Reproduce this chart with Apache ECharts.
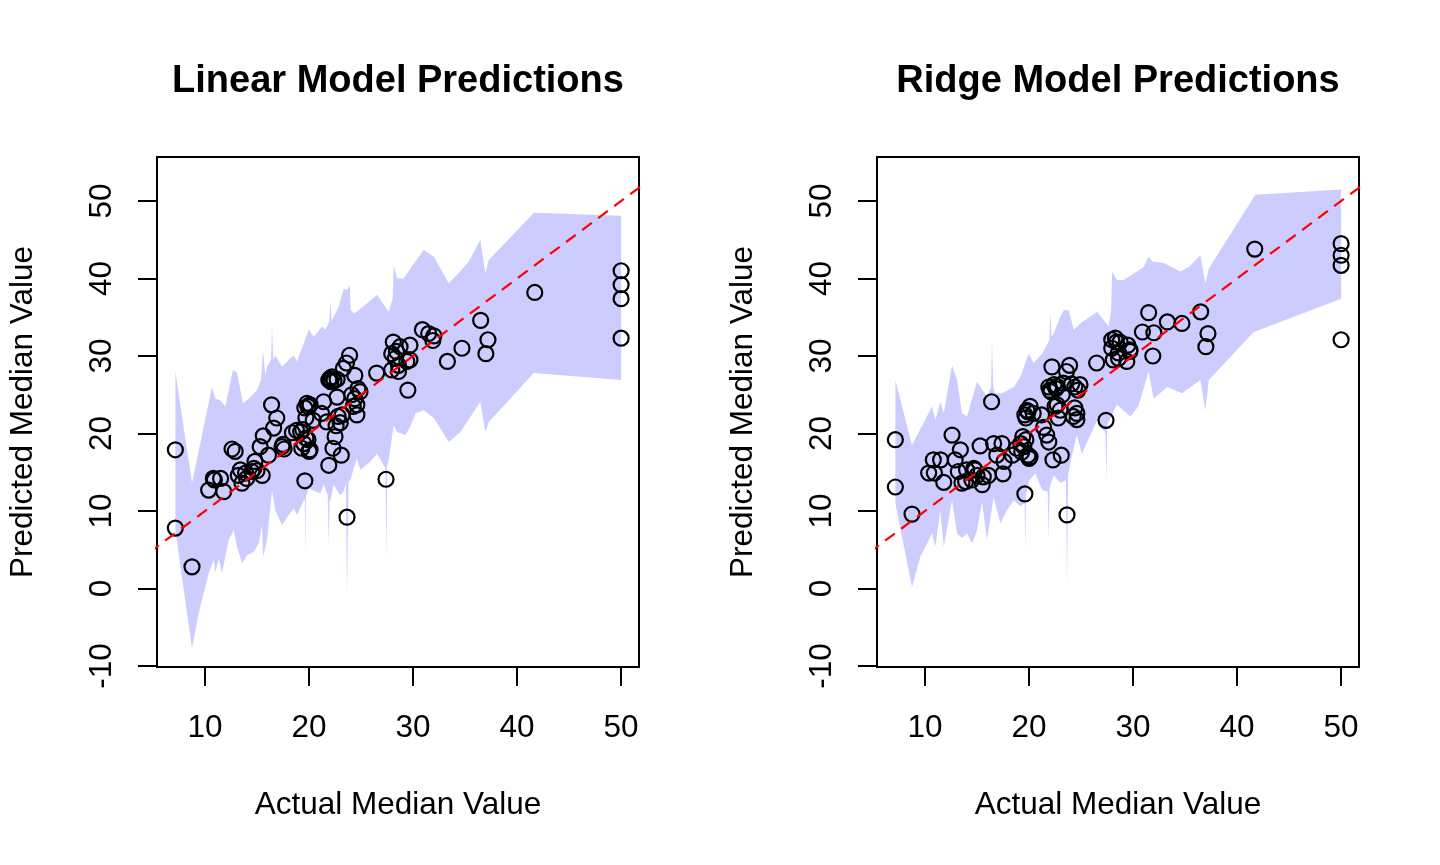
<!DOCTYPE html>
<html>
<head>
<meta charset="utf-8">
<title>Linear vs Ridge predictions</title>
<script src="https://cdn.jsdelivr.net/npm/echarts@6/dist/echarts.min.js"></script>
<style>
  html, body { margin: 0; padding: 0; background: #fff; }
  #chart { width: 1440px; height: 865px; }
</style>
</head>
<body>
<div id="chart"></div>
<script>
// test set: actual median value and what each model predicted for it
const actual = [
  7.15, 7.15, 8.75, 10.35, 10.8, 10.9, 11.5, 11.8,
  12.6, 12.9, 13.2, 13.4, 13.55, 13.9, 14.0, 14.5, 14.7, 14.8, 15.0, 15.3, 15.5, 15.6,
  16.1, 16.4, 16.6, 16.9, 17.4, 17.5, 17.6,
  18.4, 18.8, 19.2, 19.3, 19.4, 19.5, 19.6, 19.6, 19.7, 19.7, 19.8, 19.9, 19.9, 20.0, 20.1, 20.1, 20.4,
  21.2, 21.4, 21.7, 21.9, 21.9, 22.0, 22.1, 22.2, 22.3, 22.4, 22.5, 22.6, 22.7, 22.7, 22.8, 23.0, 23.1, 23.2, 23.3, 23.6, 23.65, 23.9,
  24.1, 24.25, 24.4, 24.4, 24.6, 24.6, 24.7, 24.9,
  26.5, 27.4, 27.95, 27.95, 28.1, 28.3, 28.4, 28.6, 28.6, 28.75, 29.4, 29.5, 29.7, 29.7,
  30.9, 31.5, 31.9, 32.0, 33.3, 34.7, 36.5, 37.0, 37.2, 41.7, 50, 50, 50, 50
];
const linearPred = [
  17.9, 7.8, 2.8, 12.7, 14.2, 14.0, 14.2, 12.5,
  18.0, 17.7, 14.6, 15.3, 13.6, 14.9, 14.2, 15.1, 15.5, 16.4, 15.2, 18.3, 14.6, 19.7,
  17.2, 23.7, 20.7, 22.0, 18.3, 18.6, 18.0,
  20.1, 20.4, 20.2, 18.1, 20.5, 18.7, 13.9, 23.3, 19.4, 22.0, 23.9, 19.2, 23.5, 17.7, 17.9, 23.7, 21.7,
  22.6, 24.1, 21.5, 15.9, 26.9, 27.1, 26.7, 27.3, 18.1, 26.8, 19.6, 21.0, 24.7, 27.0, 22.2, 21.4, 17.2, 22.4, 28.4, 29.1, 9.2, 30.1,
  25.0, 23.5, 27.5, 24.5, 23.7, 22.4, 25.8, 25.4,
  27.8, 14.1, 30.3, 28.2, 31.8, 29.7, 30.6, 28.8, 28.0, 31.2, 29.3, 25.6, 31.4, 29.5,
  33.4, 32.9, 32.0, 32.6, 29.3, 31.0, 34.6, 30.3, 32.1, 38.2, 41.0, 39.2, 37.4, 32.3
];
const ridgePred = [
  19.2, 13.1, 9.6, 14.9, 16.6, 14.9, 16.6, 13.7,
  19.8, 16.6, 15.1, 17.9, 13.6, 13.8, 15.3, 14.0, 15.5, 15.3, 14.6, 18.4, 13.4, 14.4,
  14.6, 24.1, 18.7, 17.2, 18.7, 14.8, 16.4,
  17.2, 18.1, 18.7, 17.6, 19.6, 18.3, 12.2, 22.4, 19.2, 22.0, 23.0, 17.2, 22.8, 16.8, 17.0, 23.5, 22.6,
  22.4, 20.8, 19.8, 18.9, 26.0, 25.6, 25.4, 28.6, 16.6, 26.3, 23.5, 25.8, 26.1, 23.7, 22.0, 23.0, 17.2, 25.0, 26.5, 28.0, 9.5, 28.8,
  26.4, 22.2, 26.0, 23.3, 21.8, 22.6, 25.6, 26.3,
  29.1, 21.7, 31.0, 32.1, 29.5, 32.3, 31.8, 29.7, 30.4, 31.8, 29.3, 31.4, 30.8, 30.6,
  33.1, 35.6, 30.0, 33.0, 34.4, 34.2, 35.7, 31.2, 32.9, 43.8, 44.5, 43.0, 41.7, 32.1
];

// prediction interval outline (upper edge and lower edge) for each model
const linUpperX = [7.15, 8.75, 10.67, 11.0, 11.47, 11.95, 12.69, 13.08, 13.65, 14.2, 15.0, 15.4, 15.58, 15.8, 15.96, 16.35, 16.44, 16.55, 16.76, 17.4, 18.53, 18.85, 19.97, 20.45, 21.25, 21.57, 21.95, 22.05, 22.15, 22.38, 22.86, 23.34, 23.65, 23.91, 24.0, 24.3, 24.6, 25.58, 26.54, 27.66, 28.05, 28.14, 28.46, 29.1, 29.74, 31.03, 32.0, 33.43, 34.39, 35.36, 36.47, 36.95, 37.28, 41.63, 50.0];
const linUpperY = [28.0, 13.6, 26.0, 24.5, 24.3, 23.5, 28.2, 27.8, 23.9, 24.5, 25.6, 27.0, 30.6, 27.5, 28.6, 29.5, 34.0, 29.5, 30.1, 28.6, 30.1, 29.3, 33.4, 32.5, 33.8, 33.4, 34.5, 37.2, 34.5, 35.1, 36.4, 38.7, 38.5, 39.2, 36.0, 35.5, 35.7, 36.8, 37.9, 35.7, 37.5, 41.7, 40.0, 40.0, 41.3, 43.7, 42.8, 39.4, 40.7, 42.2, 45.0, 40.7, 42.4, 48.5, 48.1];
const linLowerX = [7.15, 8.75, 9.39, 10.36, 10.84, 10.99, 11.32, 11.63, 12.28, 12.76, 13.08, 13.56, 14.04, 14.68, 15.16, 15.48, 15.58, 15.96, 16.44, 16.76, 17.4, 18.05, 18.53, 18.85, 19.5, 19.6, 19.64, 19.7, 19.97, 21.09, 21.41, 21.8, 21.89, 21.97, 22.05, 22.38, 23.0, 23.3, 23.55, 23.65, 23.8, 23.97, 24.6, 24.93, 25.9, 26.54, 27.35, 27.43, 27.5, 27.66, 28.14, 28.46, 29.26, 29.74, 30.22, 31.03, 32.0, 33.43, 34.55, 36.47, 36.95, 37.28, 41.6, 50.0];
const linLowerY = [7.5, -7.7, -3.2, 2.0, 3.7, 2.0, 3.9, 2.0, 6.3, 7.5, 5.4, 3.25, 4.3, 4.75, 5.8, 8.2, 4.1, 6.3, 12.7, 10.1, 8.2, 9.5, 10.35, 9.5, 11.4, 11.5, 4.3, 11.8, 12.9, 12.3, 13.4, 12.0, 5.4, 11.5, 11.4, 13.4, 12.0, 12.5, 13.5, -1.0, 13.8, 14.0, 16.8, 15.3, 16.4, 17.4, 15.5, 3.25, 15.8, 16.6, 21.1, 20.2, 19.8, 20.9, 22.6, 23.0, 22.0, 18.9, 20.2, 24.1, 20.2, 21.5, 27.8, 26.9];
const ridgeUpperX = [7.15, 8.75, 10.67, 10.99, 11.47, 11.8, 12.6, 13.08, 13.56, 14.04, 15.0, 15.32, 15.96, 16.35, 16.44, 16.55, 16.76, 17.4, 18.53, 19.16, 19.97, 20.45, 21.25, 21.95, 22.05, 22.15, 22.38, 22.86, 23.34, 23.82, 24.3, 24.93, 26.54, 27.66, 27.9, 27.98, 28.46, 29.1, 31.03, 31.5, 31.83, 32.95, 34.55, 35.36, 36.47, 36.95, 37.28, 41.76, 50.0];
const ridgeUpperY = [26.9, 18.5, 23.5, 21.7, 24.1, 22.6, 28.8, 26.9, 22.6, 22.2, 26.7, 26.0, 24.75, 26.0, 32.1, 26.0, 25.2, 25.2, 26.0, 27.3, 30.3, 29.1, 30.3, 32.0, 35.7, 32.5, 32.9, 34.6, 35.9, 35.9, 33.4, 34.2, 35.7, 33.8, 36.0, 40.9, 39.8, 39.8, 41.5, 42.8, 42.2, 42.0, 40.9, 41.5, 43.0, 39.4, 41.3, 50.8, 51.5];
const ridgeLowerX = [7.15, 8.75, 9.55, 10.67, 10.99, 11.47, 11.8, 12.6, 13.08, 13.56, 14.04, 14.52, 15.0, 15.48, 15.96, 16.6, 17.24, 17.88, 18.53, 19.16, 19.58, 19.64, 19.7, 19.97, 20.6, 21.25, 21.8, 21.89, 21.97, 22.38, 23.0, 23.55, 23.65, 23.75, 23.97, 24.6, 25.08, 26.54, 27.35, 27.43, 27.5, 27.82, 28.46, 29.74, 30.5, 31.5, 31.98, 33.27, 34.71, 36.47, 36.95, 37.28, 41.6, 50.0];
const ridgeLowerY = [11.0, 0.2, 4.1, 7.1, 5.4, 10.1, 5.4, 11.4, 7.1, 6.5, 7.1, 5.8, 7.5, 11.2, 6.3, 11.8, 8.4, 10.1, 11.4, 10.6, 11.0, 4.75, 12.0, 13.8, 14.9, 12.7, 12.5, 6.0, 13.0, 14.6, 13.6, 14.0, 0.2, 14.5, 16.2, 19.8, 17.4, 21.7, 20.0, 13.8, 21.0, 22.0, 23.7, 22.2, 23.5, 28.0, 24.5, 26.0, 25.2, 26.9, 23.0, 26.9, 33.1, 37.4];

const xTicks = [10, 20, 30, 40, 50];
const yTicks = [-10, 0, 10, 20, 30, 40, 50];
const titles = ['Linear Model Predictions', 'Ridge Model Predictions'];

const FONT = '"Liberation Sans", Arial, Helvetica, sans-serif';

const panels = [
  { pred: linearPred, upX: linUpperX, upY: linUpperY, loX: linLowerX, loY: linLowerY, left: 157 },
  { pred: ridgePred, upX: ridgeUpperX, upY: ridgeUpperY, loX: ridgeLowerX, loY: ridgeLowerY, left: 877 }
];

const grids = [], xAxes = [], yAxes = [], series = [], titleList = [];

panels.forEach(function (p, i) {
  grids.push({
    left: p.left, top: 157, width: 482, height: 510,
    show: true, borderColor: '#000', borderWidth: 2, backgroundColor: 'transparent'
  });
  titleList.push({
    text: titles[i],
    left: p.left + 241, top: 63, textAlign: 'center', padding: 0,
    textStyle: { fontFamily: FONT, fontSize: 38, fontWeight: 'bold', color: '#000', lineHeight: 38 }
  });
  xAxes.push({
    type: 'value', gridIndex: i, min: 5.385, max: 51.72,
    name: 'Actual Median Value', nameLocation: 'middle', nameGap: 122,
    nameTextStyle: { fontFamily: FONT, fontSize: 31.5, color: '#000' },
    axisLine: { show: false, onZero: false },
    axisTick: { show: true, length: 19, customValues: xTicks, lineStyle: { color: '#000', width: 2 } },
    axisLabel: { customValues: xTicks, margin: 45, fontFamily: FONT, fontSize: 31.5, color: '#000' },
    splitLine: { show: false }
  });
  yAxes.push({
    type: 'value', gridIndex: i, min: -10.13, max: 55.68,
    name: 'Predicted Median Value', nameLocation: 'middle', nameGap: 118,
    nameTextStyle: { fontFamily: FONT, fontSize: 31.5, color: '#000' },
    axisLine: { show: false, onZero: false },
    axisTick: { show: true, length: 19, customValues: yTicks, lineStyle: { color: '#000', width: 2 } },
    axisLabel: { customValues: yTicks, rotate: 90, margin: 39, fontFamily: FONT, fontSize: 31.5, color: '#000' },
    splitLine: { show: false }
  });

  // shaded interval: upper edge left to right, then lower edge right to left
  series.push({
    type: 'custom', xAxisIndex: i, yAxisIndex: i, silent: true, z: 1,
    data: [[p.upX[0], p.upY[0]]],
    renderItem: function (params, api) {
      const pts = [];
      for (let k = 0; k < p.upX.length; k++) pts.push(api.coord([p.upX[k], p.upY[k]]));
      for (let k = p.loX.length - 1; k >= 0; k--) pts.push(api.coord([p.loX[k], p.loY[k]]));
      return { type: 'polygon', shape: { points: pts }, style: { fill: '#ccccff' } };
    }
  });
  series.push({
    type: 'scatter', xAxisIndex: i, yAxisIndex: i, z: 3, silent: true,
    symbol: 'circle', symbolSize: 15,
    itemStyle: { color: 'rgba(0,0,0,0)', borderColor: '#000', borderWidth: 2.2, opacity: 1 },
    data: actual.map(function (a, k) { return [a, p.pred[k]]; })
  });
  // y = x reference line
  series.push({
    type: 'line', xAxisIndex: i, yAxisIndex: i, z: 4, silent: true, clip: true,
    symbol: 'none',
    lineStyle: { color: '#ff0000', width: 2.2, type: [12, 8] },
    data: [[0, 0], [60, 60]]
  });
});

const chart = echarts.init(document.getElementById('chart'));
chart.setOption({
  animation: false,
  backgroundColor: '#fff',
  textStyle: { fontFamily: FONT },
  title: titleList,
  grid: grids,
  xAxis: xAxes,
  yAxis: yAxes,
  series: series
});
</script>
</body>
</html>
